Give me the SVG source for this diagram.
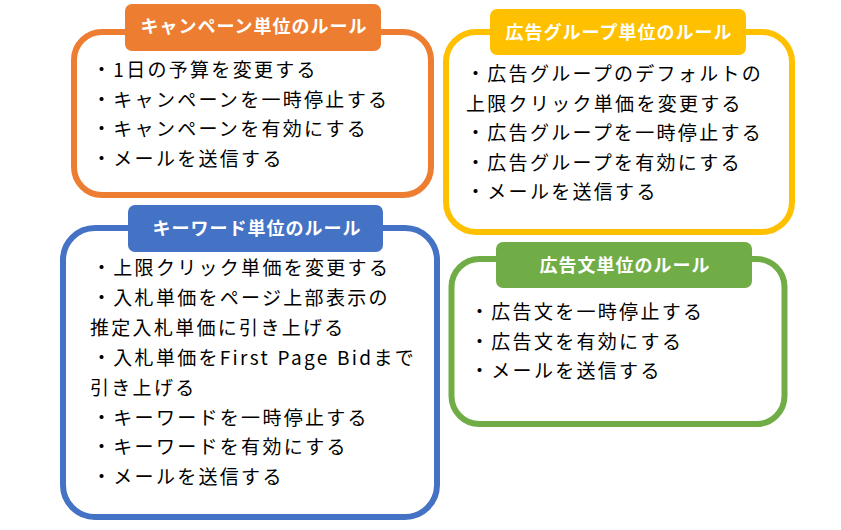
<svg xmlns="http://www.w3.org/2000/svg" width="841" height="530" viewBox="0 0 841 530">
<style>
.box{fill:#fff;stroke-width:6}
.lbl-t{fill:#fff;font-family:"Noto Sans CJK JP","Noto Sans",sans-serif;font-size:18px;font-weight:bold;letter-spacing:1px;text-anchor:middle}
.body{fill:#000;font-family:"Noto Sans CJK JP","Noto Sans",sans-serif;font-size:19px;letter-spacing:2.3px}
</style>
<rect width="841" height="530" fill="#fff"/>
<g id="campaign">
<rect class="box" x="74" y="32" width="357" height="163" rx="28" stroke="#ED7D31"/>
<rect x="125" y="4" width="256" height="47" rx="7" fill="#ED7D31"/>
<text class="lbl-t" x="254" y="33">キャンペーン単位のルール</text>
<text class="body" x="92" y="77">・1日の予算を変更する</text>
<text class="body" x="92" y="106.5">・キャンペーンを一時停止する</text>
<text class="body" x="92" y="136">・キャンペーンを有効にする</text>
<text class="body" x="92" y="165.5">・メールを送信する</text>
</g>
<g id="adgroup">
<rect class="box" x="446" y="32" width="346" height="200" rx="30" stroke="#FFC000"/>
<rect x="490" y="9" width="256" height="46" rx="7" fill="#FFC000"/>
<text class="lbl-t" x="619" y="38.5">広告グループ単位のルール</text>
<text class="body" x="466" y="81">・広告グループのデフォルトの</text>
<text class="body" x="466" y="110.5">上限クリック単価を変更する</text>
<text class="body" x="466" y="140">・広告グループを一時停止する</text>
<text class="body" x="466" y="169.5">・広告グループを有効にする</text>
<text class="body" x="466" y="199">・メールを送信する</text>
</g>
<g id="keyword">
<rect class="box" x="63" y="228" width="374" height="289" rx="32" stroke="#4472C4"/>
<rect x="128" y="205" width="255" height="47" rx="7" fill="#4472C4"/>
<text class="lbl-t" x="257" y="235">キーワード単位のルール</text>
<text class="body" x="92" y="275">・上限クリック単価を変更する</text>
<text class="body" x="92" y="305">・入札単価をページ上部表示の</text>
<text class="body" x="90" y="335">推定入札単価に引き上げる</text>
<text class="body" x="92" y="364.5" letter-spacing="2" word-spacing="1">・入札単価をFirst Page Bidまで</text>
<text class="body" x="90" y="394.5">引き上げる</text>
<text class="body" x="92" y="424.5">・キーワードを一時停止する</text>
<text class="body" x="92" y="454">・キーワードを有効にする</text>
<text class="body" x="92" y="484">・メールを送信する</text>
</g>
<g id="ad">
<rect class="box" x="451.5" y="259" width="333" height="165" rx="28" stroke="#70AD47"/>
<rect x="496" y="242" width="256" height="46" rx="7" fill="#70AD47"/>
<text class="lbl-t" x="625" y="272">広告文単位のルール</text>
<text class="body" x="470" y="319">・広告文を一時停止する</text>
<text class="body" x="470" y="348.5">・広告文を有効にする</text>
<text class="body" x="470" y="378">・メールを送信する</text>
</g>
<g id="connectors"/>
</svg>
